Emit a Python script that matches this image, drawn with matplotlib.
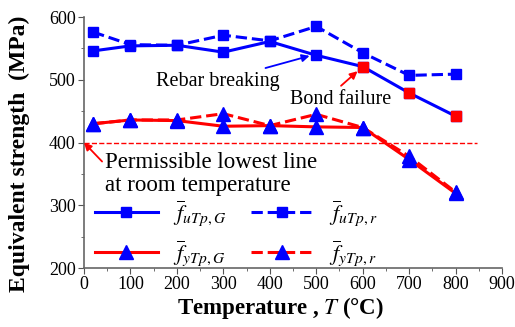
import matplotlib
matplotlib.use("Agg")
import matplotlib.pyplot as plt
from matplotlib.ticker import MultipleLocator

plt.rcParams['font.family'] = ['Liberation Serif', 'DejaVu Serif']
plt.rcParams['mathtext.fontset'] = 'stix'

# 数据
temps = [20, 100, 200, 300, 400, 500, 600, 700, 800]
fu_G = [546, 554, 555, 544, 561, 539, 521, 479, 442]
fu_r = [576, 556, 555, 571, 562, 585, 543, 507, 509]
fy_G = [430, 436, 435, 426, 427, 425, 424, 373, 319]
fy_r = [430, 436, 436, 446, 427, 445, 424, 378, 321]
limit_line = 400
limit_x = [0, 845]
red_idx = [6, 7, 8]  # 粘结破坏点（红色方块）
labels = [r'$\overline{f}_{uTp,G}$', r'$\overline{f}_{uTp,r}$',
          r'$\overline{f}_{yTp,G}$', r'$\overline{f}_{yTp,r}$']

fig = plt.figure(figsize=(5.15, 3.27), dpi=100)
ax = fig.add_axes([0.163, 0.180, 0.812, 0.768])

h1, = ax.plot(temps, fu_G, '-', color='blue', lw=2.2, marker='s', ms=7.5)
ax.plot([temps[i] for i in red_idx], [fu_G[i] for i in red_idx], 's',
        color='red', ms=7.5, zorder=5)
h2, = ax.plot(temps, fu_r, '--', color='blue', lw=2.2, marker='s', ms=7.5)
h3, = ax.plot(temps, fy_G, '-', color='red', lw=2.2, marker='^', ms=9.5,
              mfc='blue', mec='blue')
h4, = ax.plot(temps, fy_r, '--', color='red', lw=2.2, marker='^', ms=9.5,
              mfc='blue', mec='blue')
ax.plot(limit_x, [limit_line, limit_line], '--', color='red', lw=1)

# 标注
ax.annotate('Rebar breaking', xy=(500, 541), xytext=(289, 498),
            fontsize=14.5, ha='center', va='center',
            arrowprops=dict(arrowstyle='-|>', color='blue', lw=1.3,
                            shrinkA=2, shrinkB=5, mutation_scale=11))
ax.annotate('Bond failure', xy=(600, 521), xytext=(553, 468),
            fontsize=14.5, ha='center', va='center',
            arrowprops=dict(arrowstyle='-|>', color='red', lw=1.3,
                            shrinkA=2, shrinkB=5, mutation_scale=11,
                            relpos=(0.45, 1.0)))
ax.annotate('Permissible lowest line\nat room temperature', xy=(0, 400),
            xytext=(45, 385), fontsize=16.5, ha='left', va='top',
            linespacing=1.15,
            arrowprops=dict(arrowstyle='-|>', color='red', lw=1.3,
                            shrinkA=0, shrinkB=0, mutation_scale=11,
                            relpos=(0, 0.72)))

ax.set_xlim(0, 900)
ax.set_ylim(200, 600)
ax.xaxis.set_major_locator(MultipleLocator(100))
ax.xaxis.set_minor_locator(MultipleLocator(50))
ax.yaxis.set_major_locator(MultipleLocator(100))
ax.yaxis.set_minor_locator(MultipleLocator(50))
ax.tick_params(labelsize=13, direction='out', length=4, color='#555555', pad=2)
ax.tick_params(which='minor', length=2.5, color='#555555')
for s in ['top', 'right']:
    ax.spines[s].set_visible(False)
for s in ['left', 'bottom']:
    ax.spines[s].set_color('#666666')
    ax.spines[s].set_linewidth(1.2)

ax.set_xlabel(r'Temperature , $\mathbf{\mathit{T}}$ (°C)', fontsize=16.5,
              fontweight='bold')
ax.xaxis.set_label_coords(0.47, -0.105)
ax.set_ylabel('Equivalent strength  (MPa)', fontsize=17, fontweight='bold')
ax.yaxis.set_label_coords(-0.13, 0.455)

# 图例按行排列：两列，先列后行 => 调整顺序
ax.legend([h1, h3, h2, h4], [labels[0], labels[2], labels[1], labels[3]],
          ncol=2, loc='lower left', bbox_to_anchor=(-0.01, -0.06),
          frameon=False, fontsize=16, handlelength=2.8, columnspacing=1.1,
          handletextpad=0.7, labelspacing=0.45, borderaxespad=0.3)

fig.savefig('out.png', dpi=100)
